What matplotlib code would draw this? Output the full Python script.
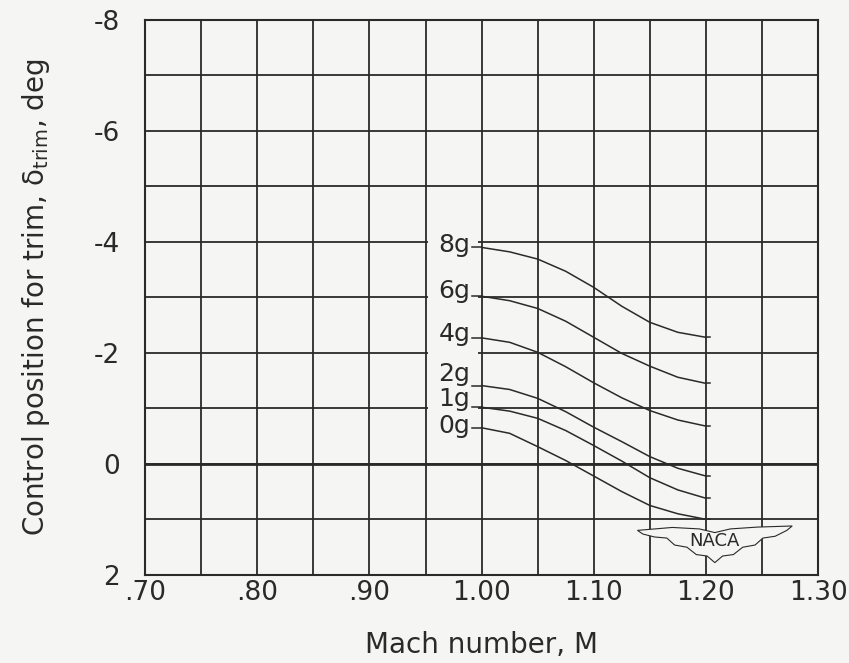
import numpy as np
import matplotlib
matplotlib.use("Agg")
import matplotlib.pyplot as plt
from matplotlib.patches import Rectangle, Polygon
from matplotlib.ticker import MultipleLocator, FixedLocator

# ---------- DATA ----------
mach = [1.00, 1.025, 1.05, 1.075, 1.10, 1.125, 1.15, 1.175, 1.20]

trim_8g = [-3.90, -3.82, -3.69, -3.47, -3.18, -2.84, -2.55, -2.37, -2.28]
trim_6g = [-3.02, -2.94, -2.80, -2.57, -2.28, -1.99, -1.76, -1.56, -1.45]
trim_4g = [-2.27, -2.19, -2.01, -1.75, -1.46, -1.19, -0.96, -0.79, -0.68]
trim_2g = [-1.41, -1.34, -1.18, -0.94, -0.66, -0.40, -0.13, 0.08, 0.22]
trim_1g = [-1.02, -0.95, -0.82, -0.60, -0.33, -0.05, 0.25, 0.47, 0.62]
trim_0g = [-0.65, -0.55, -0.31, -0.06, 0.22, 0.50, 0.75, 0.90, 1.00]

curve_names = ["8g", "6g", "4g", "2g", "1g", "0g"]
curve_values = [trim_8g, trim_6g, trim_4g, trim_2g, trim_1g, trim_0g]
label_y = [-3.94, -3.12, -2.34, -1.62, -1.17, -0.69]

x_ticks = [0.70, 0.80, 0.90, 1.00, 1.10, 1.20, 1.30]
x_tick_labels = [".70", ".80", ".90", "1.00", "1.10", "1.20", "1.30"]
y_ticks = [-8, -6, -4, -2, 0, 2]
y_tick_labels = ["-8", "-6", "-4", "-2", "0", "2"]

BG = "#f5f5f3"
INK = "#2a2a2a"

fig = plt.figure(figsize=(8.49, 6.63), dpi=100, facecolor=BG)
ax = fig.add_axes([0.171, 0.133, 0.7925, 0.837])
ax.set_facecolor(BG)

ax.set_xlim(0.70, 1.30)
ax.set_ylim(2, -8)

# grid every 0.05 / 1 deg, labels every 0.1 / 2 deg
ax.xaxis.set_major_locator(FixedLocator(x_ticks))
ax.xaxis.set_minor_locator(MultipleLocator(0.05))
ax.yaxis.set_major_locator(FixedLocator(y_ticks))
ax.yaxis.set_minor_locator(MultipleLocator(1))
ax.set_xticklabels(x_tick_labels)
ax.set_yticklabels(y_tick_labels)
ax.tick_params(which="both", length=0)
ax.tick_params(axis="x", pad=4, labelsize=19, colors=INK)
ax.tick_params(axis="y", pad=18, labelsize=19, colors=INK)
ax.set_axisbelow(True)
ax.grid(which="both", color=INK, linewidth=1.3)
for s in ax.spines.values():
    s.set_color(INK)
    s.set_linewidth(1.5)

ax.axhline(0, color=INK, linewidth=2.0, zorder=2)

# blank strip behind the load-factor labels
lab_lo = max(label_y) + 0.33
lab_hi = min(label_y) - 0.35
strip = Rectangle((0.952, lab_hi), 0.045, lab_lo - lab_hi,
                  facecolor=BG, edgecolor="none", zorder=1.5)
ax.add_patch(strip)

# curves with short leaders to their labels
for name, vals, ly in zip(curve_names, curve_values, label_y):
    ax.plot(mach, vals, color=INK, linewidth=1.1, zorder=3)
    ax.plot([mach[0] - 0.009, mach[0]], [vals[0], vals[0]], color=INK, linewidth=1.1, zorder=3)
    ax.plot([mach[-1], mach[-1] + 0.004], [vals[-1], vals[-1]], color=INK, linewidth=1.1, zorder=3)
    ax.text(mach[0] - 0.010, ly, name, ha="right", va="center",
            fontsize=18, color=INK, zorder=4)

# NACA wings logo
cx, cy, hw, hh = 1.208, 1.12, 0.069, 0.66
shape = [(-1.0, 0.12), (-0.55, 0.04), (-0.2, 0.08), (0.0, 0.18), (0.2, 0.08),
         (0.55, 0.03), (1.0, 0.0), (0.93, 0.12), (0.78, 0.28), (0.62, 0.33),
         (0.52, 0.52), (0.36, 0.58), (0.24, 0.78), (0.1, 0.82), (0.0, 1.0),
         (-0.1, 0.82), (-0.24, 0.78), (-0.36, 0.58), (-0.52, 0.52),
         (-0.62, 0.33), (-0.78, 0.3), (-0.93, 0.22)]
wing = Polygon([(cx + u * hw, cy + v * hh) for u, v in shape], closed=True,
               facecolor=BG, edgecolor=INK, linewidth=0.8, zorder=5)
ax.add_patch(wing)
ax.text(cx, cy + 0.42 * hh, "NACA", ha="center", va="center",
        fontsize=13, color=INK, zorder=6)

ax.set_xlabel("Mach number, M", fontsize=20, color=INK, labelpad=18)
ax.set_ylabel("Control position for trim, δ$_{\\mathrm{trim}}$, deg",
              fontsize=20, color=INK, labelpad=30)

fig.savefig("out.png", dpi=100, facecolor=BG)
